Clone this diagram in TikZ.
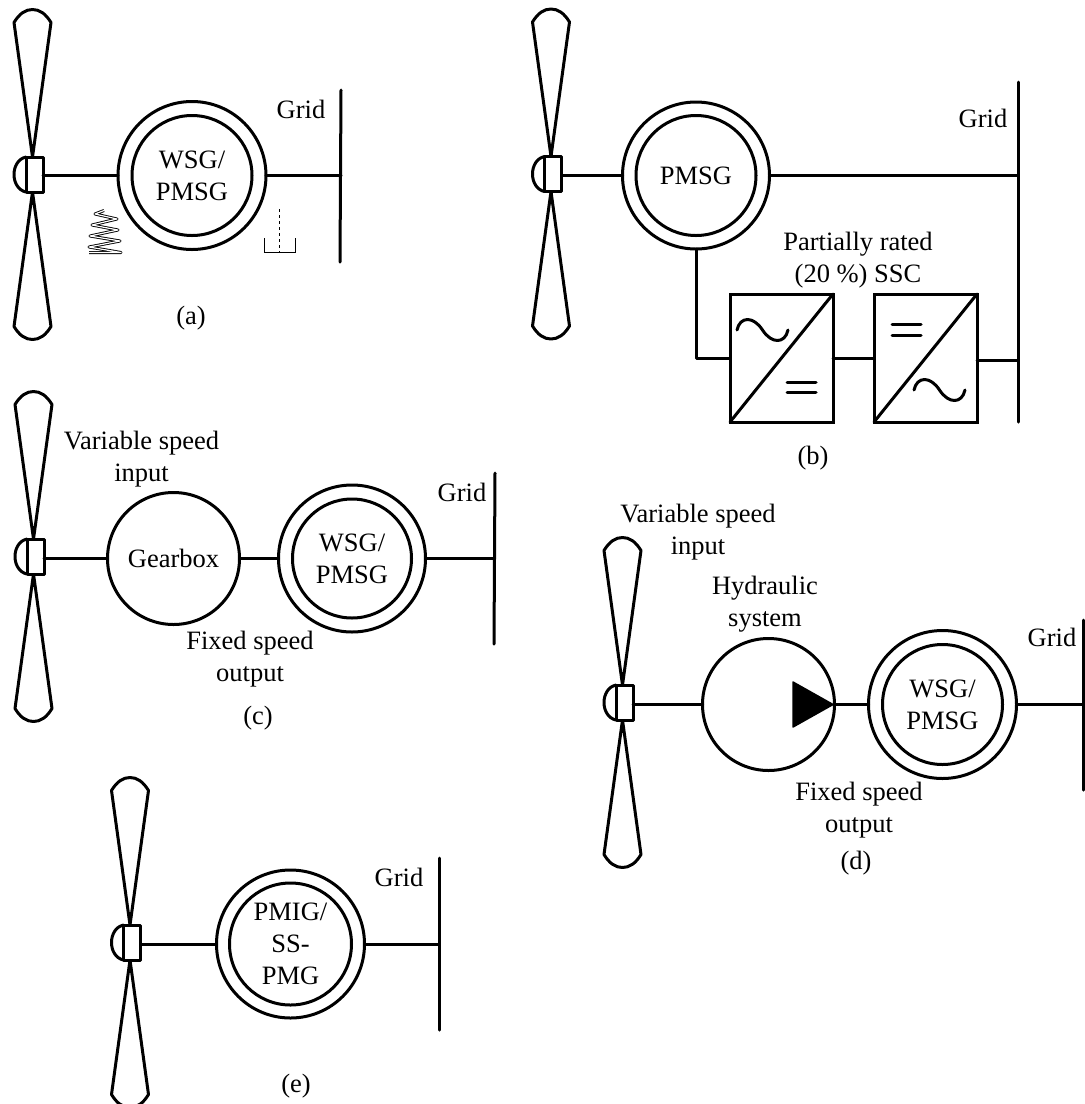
\documentclass[tikz,border=0pt]{standalone}
\usepackage{fontspec}
\setmainfont{Liberation Serif}
\usetikzlibrary{calc}
\tikzset{
  ln/.style={line width=3pt,line join=round,line cap=round},
  thin line/.style={line width=0.9pt},
  lab/.style={inner sep=0pt,outer sep=0pt,align=center,font=\fontsize{26.5}{32}\selectfont},
  mach/.style={draw,circle,line width=3pt,inner sep=0pt,outer sep=0pt,align=center,font=\fontsize{26.5}{32}\selectfont},
  hub/.style={draw,fill=white,rectangle,line width=3pt,inner sep=0pt,outer sep=0pt,minimum width=17pt,minimum height=35pt},
  conv/.style={draw,rectangle,line width=3pt,inner sep=0pt,outer sep=0pt,minimum width=103pt,minimum height=128pt}
}
% #1 name, #2 x, #3 y (hub centre), rotor half height 165
\newcommand{\rotor}[3]{%
  \begin{scope}[shift={(#2,#3)},ln]
    \draw (-2,-17.5) -- (-20.5,-152) .. controls (-15,-161) and (-9,-165) .. (-2,-165)
          .. controls (5,-165) and (11,-161) .. (16.5,-152) -- cycle;
    \draw (-2,17.5) -- (-20.5,152) .. controls (-15,161) and (-9,165) .. (-2,165)
          .. controls (5,165) and (11,161) .. (16.5,152) -- cycle;
    \draw (-8.5,-17.5) .. controls (-24.5,-14) and (-24.5,14) .. (-8.5,17.5);
    \node[hub] (#1) at (0,0) {};
  \end{scope}}
% #1 name, #2 x, #3 y, #4 outer d, #5 inner d, #6 text
\newcommand{\ringgen}[6]{%
  \node[mach,minimum size=#4pt] (#1) at (#2,#3) {};
  \node[mach,minimum size=#5pt] (#1i) at (#2,#3) {#6};}
% sine wave centred at #1
\newcommand{\sinewave}[1]{%
  \draw[ln] ($(#1)+(-25.5,0)$) .. controls +(3,-14) and +(-9,-14) .. (#1)
     .. controls +(9,14) and +(-3,14) .. ($(#1)+(25.5,0)$);}
\begin{document}
\begin{tikzpicture}[x=1pt,y=-1pt]
\useasboundingbox (0,0) rectangle (1085,1104);
% (a)
\rotor{hubA}{34.5}{174.5}
\ringgen{genA}{192}{175.5}{148}{120}{WSG/\\PMSG}
\coordinate (gaT) at (341,90); \coordinate (gaB) at (340,262); \coordinate (gaM) at (341,175.5);
\draw[ln] (gaT) -- (gaB);
\draw[ln] (hubA.east |- genA.west) -- (genA.west);
\draw[ln] (genA.east) -- (gaM);
\node[lab] (tGridA) at (301,109) {Grid};
\node[lab] (tA) at (191,318) {(a)};
\draw[thin line,double,double distance=1.2pt,line join=round]
  (104,210.5) -- (95,214) -- (117,219) -- (92,225) -- (118,230) -- (90,236) -- (120,241) -- (89,247) -- (121,252.5) -- (89,252.5);
\draw[thin line] (264,238) -- (264,252) -- (295,252) -- (295,238);
\draw[thin line,dashed] (279.5,209) -- (279.5,252);
% (b)
\rotor{hubB}{553}{174}
\ringgen{genB}{696}{175.5}{147}{120}{PMSG}
\coordinate (gbT) at (1018,82); \coordinate (gbB) at (1018,422);
\coordinate (gbM) at (1018,175.5); \coordinate (gbL) at (1018,360);
\draw[ln] (gbT) -- (gbB);
\draw[ln] (hubB.east |- genB.west) -- (genB.west);
\draw[ln] (genB.east) -- (gbM);
\node[conv] (c1) at (781.5,358) {};
\node[conv] (c2) at (925.5,358) {};
\draw[ln] (c1.south west) -- (c1.north east);
\draw[ln] (c2.south west) -- (c2.north east);
\coordinate (s1) at (762.5,330); \coordinate (s2) at (939.5,390);
\sinewave{s1}
\sinewave{s2}
\draw[ln] (787,382) -- (816,382) (787,392.5) -- (816,392.5);
\draw[ln] (892,324.5) -- (921,324.5) (892,335) -- (921,335);
\draw[ln] (genB.south) |- (c1.west);
\draw[ln] (c1) -- (c2);
\draw[ln] (c2.east |- gbL) -- (gbL);
\node[lab] (tGridB) at (983,118) {Grid};
\node[lab] (tSSC) at (858,260) {Partially rated\\(20 \%) SSC};
\node[lab] (tB) at (813,458) {(b)};
% (c)
\rotor{hubC}{35.5}{556.5}
\node[mach,minimum size=132pt] (gear) at (173.5,558.5) {Gearbox};
\ringgen{genC}{352}{558.5}{147}{119}{WSG/\\PMSG}
\coordinate (gcT) at (495,473); \coordinate (gcB) at (494,644); \coordinate (gcM) at (494,558.5);
\draw[ln] (gcT) -- (gcB);
\draw[ln] (hubC.east |- gear.west) -- (gear.west);
\draw[ln] (gear) -- (genC);
\draw[ln] (genC.east) -- (gcM);
\node[lab] (tGridC) at (462,492) {Grid};
\node[lab] (tVarC) at (141.5,459) {Variable speed\\input};
\node[lab] (tFixC) at (250,659) {Fixed speed\\output};
\node[lab] (tC) at (258,718) {(c)};
% (d)
\rotor{hubD}{624.5}{702.5}
\node[mach,minimum size=132pt] (hyd) at (768.5,704.5) {};
\fill[line join=round,draw=black,line width=1.5pt] (793,682) -- (833,704.5) -- (793,727) -- cycle;
\ringgen{genD}{942.5}{704.5}{148}{120}{WSG/\\PMSG}
\coordinate (gdT) at (1083,620); \coordinate (gdB) at (1083,790); \coordinate (gdM) at (1083,704.5);
\draw[ln] (gdT) -- (gdB);
\draw[ln] (hubD.east |- hyd.west) -- (hyd.west);
\draw[ln] (hyd) -- (genD);
\draw[ln] (genD.east) -- (gdM);
\node[lab] (tGridD) at (1052,637) {Grid};
\node[lab] (tVarD) at (698,532) {Variable speed\\input};
\node[lab] (tHyd) at (765,604) {Hydraulic\\system};
\node[lab] (tFixD) at (859,810) {Fixed speed\\output};
\node[lab] (tD) at (856,863) {(d)};
% (e)
\rotor{hubE}{132}{942.5}
\ringgen{genE}{290.5}{944}{148}{122}{PMIG/\\SS-\\PMG}
\coordinate (geT) at (439,858); \coordinate (geB) at (439,1030); \coordinate (geM) at (439,944);
\draw[ln] (geT) -- (geB);
\draw[ln] (hubE.east |- genE.west) -- (genE.west);
\draw[ln] (genE.east) -- (geM);
\node[lab] (tGridE) at (399,877) {Grid};
\node[lab] (tE) at (296,1086) {(e)};
\end{tikzpicture}
\end{document}
